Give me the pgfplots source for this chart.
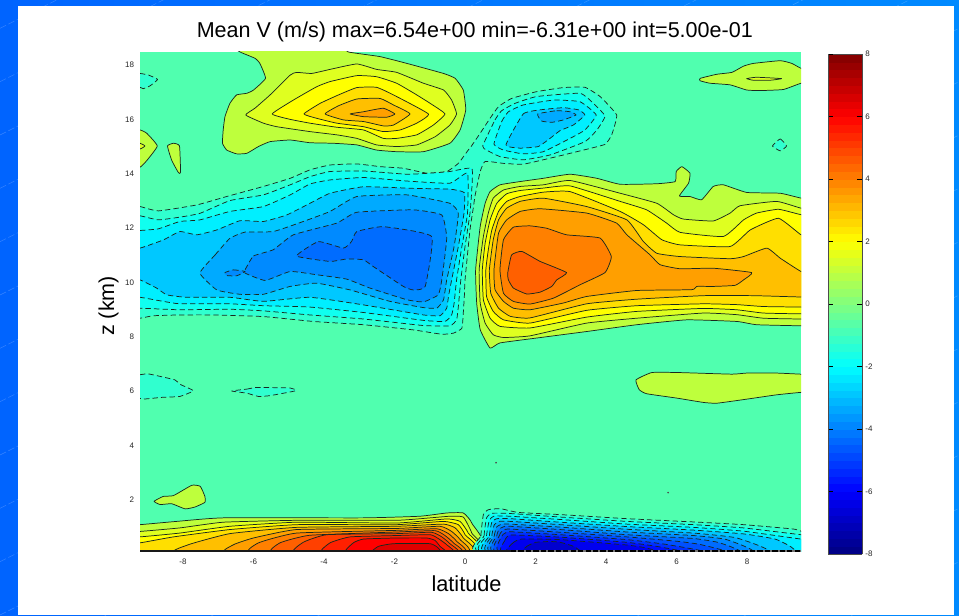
\documentclass[border=0pt]{standalone}
\usepackage{fontspec}
\setmainfont{Liberation Sans}
\usepackage{pgfplots}
\pgfplotsset{compat=1.18}
\definecolor{bgc}{RGB}{80,255,175}
\definecolor{lc}{RGB}{25,40,30}
\definecolor{P05}{RGB}{190,255,60}
\definecolor{P10}{RGB}{223,255,32}
\definecolor{P15}{RGB}{255,255,0}
\definecolor{P20}{RGB}{255,223,0}
\definecolor{P25}{RGB}{255,191,0}
\definecolor{P30}{RGB}{255,159,0}
\definecolor{P35}{RGB}{255,128,0}
\definecolor{P40}{RGB}{255,96,0}
\definecolor{P45}{RGB}{255,64,0}
\definecolor{P50}{RGB}{255,32,0}
\definecolor{P55}{RGB}{255,0,0}
\definecolor{P60}{RGB}{223,0,0}
\definecolor{N05}{RGB}{48,255,207}
\definecolor{N10}{RGB}{16,255,239}
\definecolor{N15}{RGB}{0,239,255}
\definecolor{N20}{RGB}{0,200,255}
\definecolor{N25}{RGB}{0,170,255}
\definecolor{N30}{RGB}{0,138,255}
\definecolor{N35}{RGB}{0,108,255}
\definecolor{N40}{RGB}{0,80,255}
\definecolor{N45}{RGB}{0,48,255}
\definecolor{N50}{RGB}{0,16,255}
\definecolor{N55}{RGB}{0,0,239}
\definecolor{N60}{RGB}{0,0,207}
\tikzset{
 pl/.style={fill=#1,draw=lc,line width=.55pt,line join=round,smooth cycle,tension=.25},
 nl/.style={fill=#1,draw=lc,line width=.55pt,line join=round,smooth cycle,tension=.25,dash pattern=on 4pt off 2.4pt},
}
\begin{document}
\begin{tikzpicture}
\path[use as bounding box] (0pt,0pt) rectangle (719.25pt,461.25pt);
\shade[left color={rgb,255:red,0;green,100;blue,255},right color={rgb,255:red,0;green,138;blue,255}] (0pt,0pt) rectangle (719.25pt,461.25pt);
\foreach \s in {-480,-440,...,480}{
 \draw[white,opacity=.22,line width=.35pt,dash pattern=on 5pt off 2pt] (0pt,\s pt) -- (719.25pt,\s pt+360pt);
}
\fill[white] (13.5pt,0pt) rectangle (715.5pt,456.75pt);
\begin{axis}[
 at={(105pt,48pt)},anchor=south west,
 scale only axis,width=495.75pt,height=374.25pt,
 xmin=-9.22,xmax=9.53,ymin=0.11,ymax=18.48,
 axis background/.style={fill=bgc},
 axis line style={draw=none},
 tick style={draw=none},
 xtick={-8,-6,...,8},ytick={2,4,...,18},
 tick label style={font=\fontsize{6}{6.5}\selectfont,text=black!85},
 /pgf/number format/assume math mode=true,
 xticklabel style={yshift=-2.4pt},
 yticklabel style={xshift=-1pt},
 title={\fontsize{16.15}{18}\selectfont Mean V (m/s) max=6.54e+00 min=-6.31e+00 int=5.00e-01},
 title style={at={(axis description cs:0.5065,1)},anchor=base,yshift=4.8pt},
 xlabel={\fontsize{16.3}{18}\selectfont latitude},
 xlabel style={at={(axis description cs:0.494,0)},anchor=base,yshift=-30.5pt},
 ylabel={\fontsize{16.15}{18}\selectfont z (km)},
 ylabel style={at={(axis description cs:-0.039,0.491)},anchor=base},
 colormap={matjet}{rgb255(0cm)=(0,0,128); rgb255(1cm)=(0,0,255); rgb255(3cm)=(0,255,255); rgb255(5cm)=(255,255,0); rgb255(7cm)=(255,0,0); rgb255(8cm)=(128,0,0)},
 point meta min=-8,point meta max=8,
 colorbar sampled,
 colorbar shift/.style={xshift=20.25pt,yshift=-1.5pt},
 colorbar style={
  samples=65,
  width=25.5pt,height=375pt,scale only axis,
  ytick={-8,-6,...,8},
  tick align=inside,ytick pos=both,yticklabel pos=right,
  major tick length=4pt,
  tick style={draw=black,line width=.5pt},
  axis line style={draw=black!70,line width=.6pt},
  tick label style={font=\fontsize{6}{6.5}\selectfont,text=black!85},
  /pgf/number format/assume math mode=true,
  yticklabel style={xshift=-1pt},
 },
]
% ---- negative contours aloft
\addplot[nl=N05] coordinates {(-9.6,12.79)(-9.22,12.79)(-8.70,12.63)(-7.61,12.85)(-6.76,13.16)(-5.72,13.53)(-4.96,13.83)(-4.40,14.14)(-3.83,14.32)(-3.07,14.36)(-2.41,14.26)(-1.75,14.20)(-1.09,14.02)(-.52,14.08)(-.19,14.38)(.09,14.87)(.14,14.94)(.43,15.49)(.71,16.04)(.95,16.47)(1.32,16.77)(2.03,17.02)(2.79,17.17)(3.40,17.18)(3.83,16.84)(4.30,16.16)(4.16,15.43)(3.97,15.08)(3.36,14.87)(2.41,14.57)(1.65,14.35)(1.09,14.38)(.57,14.45)(.43,14.08)(.28,13.16)(.24,12.79)(.14,11.93)(0,10.09)(-.02,9.48)(-.05,8.87)(-.09,8.31)(-.33,8.13)(-.66,8.09)(-1.47,8.25)(-2.88,8.44)(-4.30,8.56)(-5.72,8.74)(-7.14,8.80)(-8.09,8.80)(-8.84,8.77)(-9.22,8.68)(-9.6,8.68)};
\addplot[nl=N10] coordinates {(-9.6,12.45)(-9.22,12.45)(-8.70,12.30)(-8.09,12.40)(-7.52,12.54)(-6.67,13.01)(-5.72,13.22)(-4.96,13.59)(-4.40,13.89)(-3.83,14.08)(-2.88,14.10)(-1.65,13.98)(-.99,14.02)(-.43,14.08)(.19,14.20)(.19,13.40)(.14,12.54)(0,11.32)(-.12,10.09)(-.19,9.11)(-.24,8.62)(-.43,8.40)(-1.18,8.41)(-2.88,8.65)(-4.40,8.80)(-5.72,8.95)(-6.67,9.01)(-8.09,8.99)(-9.22,9.05)(-9.6,9.05)};
\addplot[nl=N15] coordinates {(-9.6,11.91)(-9.22,11.91)(-8.70,11.97)(-8.09,12.24)(-7.52,12.30)(-6.67,12.61)(-5.72,12.79)(-4.96,13.22)(-4.40,13.62)(-3.83,13.77)(-2.88,13.86)(-1.65,13.73)(-.43,13.65)(.07,14.02)(.07,12.54)(-.09,11.32)(-.24,10.09)(-.31,9.23)(-.38,8.80)(-.57,8.56)(-1.18,8.60)(-2.88,8.89)(-4.40,9.09)(-5.72,9.14)(-6.67,9.21)(-8.09,9.21)(-8.56,9.30)(-9.22,9.45)(-9.6,9.45)};
\addplot[nl=N20] coordinates {(-9.6,11.26)(-9.22,11.26)(-8.56,11.56)(-8.09,11.87)(-7.61,11.75)(-7.04,11.93)(-6.38,12.27)(-5.72,12.24)(-5.06,12.48)(-4.40,12.91)(-3.83,13.28)(-2.88,13.52)(-1.47,13.46)(-.43,13.43)(-.02,13.30)(-.03,12.54)(-.19,11.32)(-.38,10.09)(-.47,9.48)(-.52,9.05)(-.71,8.77)(-1.18,8.80)(-2.88,9.17)(-4.40,9.45)(-5.72,9.30)(-6.67,9.45)(-7.90,9.45)(-8.46,9.54)(-8.75,9.79)(-9.22,10.09)(-9.6,10.09)};
\addplot[nl=N25] coordinates {(-7.52,10.34)(-7.09,11.01)(-6.67,11.62)(-6.24,11.85)(-5.44,11.87)(-4.59,12.24)(-3.83,12.61)(-3.07,13.16)(-1.65,13.22)(-.43,12.91)(-.19,12.54)(-.31,11.32)(-.52,10.09)(-.61,9.36)(-.80,9.05)(-1.18,9.07)(-2.13,9.30)(-3.26,9.72)(-4.21,9.97)(-4.96,9.85)(-5.72,9.56)(-6.38,9.56)(-7.04,9.72)};
\addplot[nl=N30] coordinates {(-6.24,10.46)(-6.00,10.97)(-5.44,11.20)(-4.87,11.75)(-3.64,12.18)(-3.07,12.58)(-1.47,12.67)(-.66,12.48)(-.52,11.62)(-.66,10.09)(-.76,9.54)(-1.18,9.28)(-1.65,9.36)(-2.70,9.79)(-3.36,10.12)(-4.21,10.28)(-4.96,10.40)(-5.67,10.07)(-6.24,10.34)};
\addplot[nl=N30] coordinates {(-6.81,10.36)(-6.57,10.46)(-6.24,10.40)(-6.48,10.24)(-6.76,10.25)};
\addplot[nl=N35] coordinates {(-4.78,10.97)(-4.16,11.50)(-3.45,11.26)(-3.22,11.50)(-3.07,11.87)(-2.32,12.05)(-.95,11.69)(-1.13,9.85)(-1.47,9.72)(-1.75,9.85)(-2.60,10.58)(-2.88,10.83)(-3.36,10.86)(-3.83,10.77)};
% upper negative blob
\addplot[nl=N10] coordinates {(.50,15.02)(.85,15.98)(1.04,16.32)(1.42,16.59)(2.03,16.84)(3.26,16.96)(3.64,16.59)(3.97,16.12)(3.74,15.61)(3.40,15.18)(2.41,14.69)(1.65,14.51)(.99,14.63)(.61,14.87)};
\addplot[nl=N15] coordinates {(.82,15.09)(1.04,15.92)(1.23,16.28)(1.65,16.53)(2.51,16.71)(3.26,16.65)(3.72,16.16)(3.40,15.61)(2.98,15.30)(2.22,14.81)(1.65,14.73)(1.09,14.87)};
\addplot[nl=N20] coordinates {(1.16,15.06)(1.65,16.20)(2.13,16.35)(2.79,16.43)(3.22,16.35)(3.40,16.16)(3.07,15.79)(2.70,15.59)(2.41,15.30)(2.08,15.00)(1.56,14.94)};
\addplot[nl=N25] coordinates {(2.06,16.20)(2.60,16.32)(2.98,16.28)(3.15,16.16)(2.79,15.98)(2.46,15.89)(2.17,15.94)};
% small negative patches
\addplot[nl=N05] coordinates {(-9.6,17.69)(-9.22,17.69)(-8.98,17.63)(-8.72,17.47)(-8.94,17.23)(-9.13,17.13)(-9.22,17.18)(-9.6,17.18)};
\addplot[nl=N05] coordinates {(8.72,15.02)(8.94,15.28)(9.12,15.02)(8.94,14.84)};
\addplot[nl=N05] coordinates {(-9.6,6.60)(-9.22,6.60)(-8.98,6.63)(-8.23,6.41)(-8.09,6.25)(-7.71,6.01)(-8.09,5.80)(-8.56,5.77)(-9.13,5.70)(-9.22,5.73)(-9.6,5.73)};
\addplot[nl=N05] coordinates {(-6.62,6.00)(-6.19,6.07)(-5.91,6.13)(-4.96,6.11)(-4.80,6.01)(-5.53,5.83)(-5.86,5.80)(-6.19,5.92)};
% ---- positive upper blob
\addplot[pl=P05] coordinates {(-6.5,18.7)(-6.38,18.48)(-5.96,18.25)(-5.82,18.06)(-5.66,17.51)(-6.00,17.08)(-6.19,16.96)(-6.48,16.90)(-6.67,16.59)(-6.81,16.10)(-6.86,15.61)(-6.88,15.12)(-6.76,14.87)(-6.48,14.73)(-6.19,14.75)(-5.86,15.00)(-5.53,15.18)(-4.96,15.24)(-4.40,15.14)(-3.74,15.12)(-3.07,15.06)(-2.51,14.87)(-1.94,14.81)(-1.18,14.81)(-.43,15.12)(-.14,15.61)(.02,16.35)(-.05,17.08)(-.28,17.51)(-.61,17.69)(-1.65,18.06)(-2.41,18.31)(-3.31,18.48)(-3.6,18.7)};
\addplot[pl=P10] coordinates {(-6.22,16.16)(-5.96,16.41)(-5.53,16.90)(-4.96,17.63)(-4.78,17.73)(-4.35,17.69)(-3.83,17.84)(-3.07,18.04)(-2.51,17.84)(-1.94,17.73)(-1.18,17.33)(-.61,17.08)(-.38,16.71)(-.24,16.20)(-.43,15.79)(-.85,15.36)(-1.37,15.06)(-1.94,15.00)(-2.51,15.06)(-3.07,15.30)(-3.64,15.43)(-4.40,15.55)(-5.34,15.73)(-5.72,15.86)};
\addplot[pl=P15] coordinates {(-5.47,16.20)(-4.87,16.71)(-4.21,17.20)(-3.83,17.39)(-3.07,17.61)(-2.51,17.57)(-1.94,17.33)(-1.37,16.90)(-.99,16.59)(-.57,16.20)(-.90,15.79)(-1.37,15.43)(-1.94,15.30)(-2.32,15.30)(-2.88,15.61)(-3.64,15.71)(-4.40,15.86)(-4.96,16.00)};
\addplot[pl=P20] coordinates {(-4.57,16.20)(-4.11,16.59)(-3.59,16.90)(-3.07,17.17)(-2.51,17.18)(-2.03,16.90)(-1.04,16.20)(-1.37,15.86)(-1.84,15.61)(-2.32,15.55)(-2.88,15.73)(-3.64,15.86)(-4.21,16.04)};
\addplot[pl=P25] coordinates {(-3.97,16.20)(-3.59,16.50)(-3.07,16.75)(-2.41,16.77)(-2.03,16.53)(-1.56,16.20)(-2.03,15.79)(-2.32,15.76)(-2.88,15.92)(-3.45,15.98)};
\addplot[pl=P30] coordinates {(-3.26,16.20)(-2.88,16.28)(-2.32,16.41)(-1.99,16.20)(-2.22,16.08)(-2.88,16.10)};
% small positive patches
\addplot[pl=P05] coordinates {(-9.6,15.61)(-9.22,15.61)(-9.03,15.49)(-8.73,15.02)(-9.03,14.48)(-9.22,14.24)(-9.6,14.24)};
\addplot[pl=P10] coordinates {(-9.6,15.12)(-9.22,15.12)(-9.08,15.02)(-9.22,14.91)(-9.6,14.91)};
\addplot[pl=P05] coordinates {(-8.44,15.02)(-8.27,15.12)(-8.10,15.02)(-8.07,14.05)(-8.13,14.04)(-8.32,14.49)};
\addplot[pl=P05] coordinates {(9.8,17.88)(9.53,17.88)(9.27,18.06)(8.94,18.16)(8.18,18.06)(7.90,17.96)(7.57,17.73)(7.14,17.66)(6.67,17.51)(6.67,17.42)(6.95,17.33)(7.52,17.27)(7.99,17.08)(8.37,17.06)(9.03,17.10)(9.53,17.33)(9.8,17.33)};
\addplot[pl=P10] coordinates {(7.99,17.50)(8.27,17.55)(8.98,17.50)(8.65,17.44)(8.18,17.44)};
\addplot[pl=P05] coordinates {(9.8,6.62)(9.53,6.62)(8.84,6.66)(7.99,6.66)(7.57,6.62)(6.05,6.68)(5.30,6.68)(4.85,6.41)(4.94,6.05)(5.15,5.90)(6.00,5.74)(6.76,5.58)(7.14,5.55)(7.99,5.70)(8.84,5.86)(9.53,5.95)(9.8,5.95)};
\addplot[pl=P05] coordinates {(-8.82,1.94)(-8.56,2.12)(-8.27,2.15)(-7.75,2.53)(-7.51,2.49)(-7.38,2.12)(-7.38,1.90)(-7.66,1.73)(-7.94,1.66)(-8.32,1.85)(-8.65,1.82)};
% ---- positive main blob
\addplot[pl=P05] coordinates {(9.8,13.10)(9.53,13.10)(8.94,13.28)(7.99,13.31)(7.33,13.59)(7.04,13.53)(6.71,13.04)(6.38,13.16)(6.08,13.18)(6.34,13.65)(6.38,14.02)(6.15,14.26)(5.99,14.08)(5.96,13.71)(5.44,13.63)(4.40,13.61)(3.74,13.83)(2.98,13.98)(2.22,13.83)(1.56,13.71)(.99,13.59)(.71,13.34)(.57,12.91)(.43,12.06)(.30,10.46)(.33,9.24)(.43,8.26)(.71,7.58)(.99,7.77)(2.03,7.95)(3.45,8.19)(4.87,8.44)(6.29,8.62)(7.71,8.56)(8.27,8.44)(9.53,8.40)(9.8,8.40)};
\addplot[pl=P10] coordinates {(9.8,12.73)(9.53,12.73)(8.84,12.98)(7.80,12.82)(7.52,12.55)(7.04,12.26)(6.19,12.33)(5.91,12.49)(5.44,12.91)(4.40,13.28)(2.98,13.75)(2.22,13.59)(1.56,13.53)(1.09,13.40)(.80,13.10)(.66,12.55)(.52,11.69)(.40,10.46)(.43,9.24)(.57,8.50)(.80,8.07)(1.09,7.97)(1.84,8.03)(3.45,8.50)(4.87,8.68)(6.76,8.87)(7.71,8.81)(8.46,8.68)(9.53,8.65)(9.8,8.65)};
\addplot[pl=P15] coordinates {(9.8,12.49)(9.53,12.49)(8.89,12.69)(8.27,12.55)(7.90,12.30)(7.33,11.69)(6.10,11.84)(5.72,12.18)(5.15,12.67)(4.40,12.98)(2.98,13.55)(2.22,13.47)(1.56,13.38)(1.18,13.26)(.90,12.91)(.71,12.30)(.57,11.44)(.49,10.46)(.52,9.36)(.71,8.68)(.99,8.38)(1.84,8.32)(3.45,8.72)(4.87,8.93)(6.76,9.04)(7.71,8.99)(8.46,8.87)(9.53,8.84)(9.8,8.84)};
\addplot[pl=P20] coordinates {(9.8,11.75)(9.53,11.75)(8.89,12.36)(8.09,11.93)(7.52,11.32)(6.10,11.38)(5.58,11.57)(5.06,12.12)(4.40,12.61)(2.98,13.34)(2.22,13.32)(1.56,13.16)(1.18,12.98)(.95,12.61)(.76,11.93)(.66,11.20)(.59,10.46)(.61,9.48)(.80,8.93)(1.09,8.62)(1.84,8.50)(3.45,8.97)(4.87,9.14)(6.76,9.21)(7.71,9.18)(8.46,9.11)(9.53,9.09)(9.8,9.09)};
\addplot[pl=P25] coordinates {(9.8,10.40)(9.53,10.40)(8.94,10.89)(8.56,11.26)(7.90,10.95)(7.52,10.87)(6.10,10.95)(5.44,11.07)(5.06,11.50)(4.59,12.30)(3.45,12.79)(2.22,13.10)(1.56,12.98)(1.18,12.73)(.95,12.30)(.80,11.57)(.69,10.46)(.73,9.60)(.95,9.05)(1.28,8.75)(1.84,8.69)(3.45,9.21)(4.87,9.38)(6.76,9.51)(8.18,9.51)(9.53,9.46)(9.8,9.46)};
\addplot[pl=P30] coordinates {(8.13,10.36)(7.04,10.52)(6.10,10.50)(5.53,10.65)(5.25,11.01)(4.59,11.75)(4.30,12.18)(3.45,12.55)(2.13,12.71)(1.56,12.61)(1.18,12.30)(.95,11.81)(.82,10.46)(.85,9.73)(1.09,9.30)(1.37,9.05)(1.84,8.99)(2.79,9.24)(3.45,9.48)(4.87,9.70)(6.43,9.73)(6.57,9.85)(7.04,9.85)(7.66,9.89)(7.90,10.09)};
\addplot[pl=P35] coordinates {(4.15,10.95)(3.83,11.63)(2.88,11.75)(2.32,11.99)(1.84,12.08)(1.37,12.03)(1.09,11.57)(.99,10.46)(1.09,9.60)(1.37,9.30)(1.84,9.20)(2.51,9.42)(3.26,9.91)(3.97,10.36)};
\addplot[pl=P40] coordinates {(1.21,10.34)(1.32,11.01)(1.61,11.14)(2.13,10.77)(2.88,10.36)(2.60,10.09)(2.46,9.85)(2.13,9.64)(1.75,9.57)(1.37,9.79)(1.23,10.09)};
% ---- near-surface, south
\addplot[pl=P05] coordinates {(-9.6,0)(-9.6,1.08)(-9.22,1.08)(-8.18,1.20)(-6.86,1.33)(-2.88,1.33)(-1.28,1.39)(-.52,1.51)(-.05,1.51)(.19,1.14)(.26,0)};
\addplot[pl=P10] coordinates {(-9.6,0)(-9.6,.83)(-9.22,.83)(-8.09,.96)(-6.86,1.17)(-4.78,1.24)(-1.94,1.24)(-.99,1.33)(-.43,1.39)(-.05,1.36)(.19,.77)(.22,0)};
\addplot[pl=P15] coordinates {(-9.6,0)(-9.6,.63)(-9.22,.63)(-8.09,.77)(-6.67,1.02)(-4.78,1.17)(-1.94,1.14)(-.52,1.29)(-.14,1.20)(.09,.77)(.16,0)};
\addplot[pl=P20] coordinates {(-9.6,0)(-9.6,.41)(-9.22,.41)(-8.27,.63)(-6.67,.90)(-4.78,1.08)(-1.94,1.08)(-.61,1.20)(-.19,1.08)(0,.71)(.09,0)};
\addplot[pl=P25] coordinates {(-8.09,0)(-7.85,.34)(-6.67,.75)(-4.78,.98)(-1.94,1.02)(-.61,1.10)(-.28,.96)(-.05,.59)(.03,0)};
\addplot[pl=P30] coordinates {(-6.67,0)(-6.57,.34)(-6.00,.59)(-4.78,.90)(-1.94,.94)(-.71,1.02)(-.38,.83)(-.14,.53)(-.05,0)};
\addplot[pl=P35] coordinates {(-6.00,0)(-5.86,.41)(-4.78,.77)(-1.94,.87)(-.80,.93)(-.47,.75)(-.24,.47)(-.12,0)};
\addplot[pl=P40] coordinates {(-5.39,0)(-5.25,.41)(-4.40,.69)(-1.94,.81)(-.85,.86)(-.57,.68)(-.33,.41)(-.19,0)};
\addplot[pl=P45] coordinates {(-4.78,0)(-4.59,.43)(-3.92,.71)(-1.94,.75)(-.95,.80)(-.66,.63)(-.43,.38)(-.28,0)};
\addplot[pl=P50] coordinates {(-4.02,0)(-3.83,.41)(-3.26,.63)(-1.94,.68)(-.99,.71)(-.76,.57)(-.52,.34)(-.38,0)};
\addplot[pl=P55] coordinates {(-3.36,0)(-3.17,.41)(-2.88,.55)(-1.94,.59)(-1.09,.59)(-.85,.50)(-.71,.28)(-.57,0)};
\addplot[pl=P60] coordinates {(-2.65,0)(-2.46,.28)(-2.03,.38)(-.99,.38)(-.76,.22)(-.73,0)};
% ---- near-surface, north
\addplot[nl=N05] coordinates {(.52,0)(.45,.67)(.52,1.45)(.66,1.63)(1.0,1.67)(1.51,1.53)(2.70,1.45)(4.59,1.30)(6.48,1.18)(7.90,1.08)(9.31,.92)(9.53,.84)(9.8,.84)(9.8,0)};
\addplot[nl=N10] coordinates {(.60,0)(.54,.67)(.61,1.33)(.76,1.50)(1.28,1.49)(2.70,1.36)(4.59,1.20)(6.48,1.08)(7.90,.96)(9.53,.71)(9.8,.71)(9.8,0)};
\addplot[nl=N15] coordinates {(.67,0)(.61,.67)(.69,1.25)(.83,1.40)(1.28,1.39)(2.70,1.27)(4.59,1.10)(6.48,.98)(7.90,.84)(9.53,.55)(9.8,.55)(9.8,0)};
\addplot[nl=N20] coordinates {(.74,0)(.69,.67)(.76,1.18)(.90,1.30)(1.28,1.30)(2.70,1.17)(4.59,1.01)(6.48,.88)(7.90,.74)(8.84,.53)(9.17,0)};
\addplot[nl=N25] coordinates {(.81,0)(.76,.67)(.83,1.08)(.97,1.20)(1.28,1.20)(2.70,1.08)(4.59,.91)(6.48,.77)(7.71,.59)(8.56,0)};
\addplot[nl=N30] coordinates {(.88,0)(.83,.67)(.90,1.00)(1.05,1.10)(1.28,1.10)(2.70,.99)(4.59,.81)(6.48,.68)(7.42,.53)(8.09,0)};
\addplot[nl=N35] coordinates {(.95,0)(.90,.67)(.97,.92)(1.13,1.02)(1.28,1.02)(2.70,.90)(4.59,.71)(6.48,.57)(7.23,.41)(7.71,0)};
\addplot[nl=N40] coordinates {(1.02,0)(.97,.67)(1.05,.84)(1.23,.92)(2.70,.80)(4.59,.63)(6.00,.47)(6.67,.35)(7.42,0)};
\addplot[nl=N45] coordinates {(1.10,0)(1.05,.67)(1.13,.76)(1.28,.82)(2.70,.71)(4.59,.53)(5.72,.35)(6.95,0)};
\addplot[nl=N50] coordinates {(1.18,0)(1.13,.50)(1.30,.70)(2.70,.62)(4.59,.43)(5.53,.26)(6.29,0)};
\addplot[nl=N55] coordinates {(1.28,0)(1.35,.40)(1.60,.55)(2.70,.53)(4.59,.33)(5.15,.22)(5.53,0)};
\addplot[nl=N60] coordinates {(1.61,0)(1.75,.28)(2.00,.43)(2.42,.46)(2.70,.43)(3.08,.28)(3.31,0)};
% ---- bottom edge and specks
\addplot[black!90,line width=1.1pt,clip=false] coordinates {(-9.22,.11)(1.3,.11)};
\addplot[black!55,line width=1.1pt,clip=false] coordinates {(1.3,.11)(9.53,.11)};
\addplot[black,line width=1.1pt,clip=false,dash pattern=on 4pt off 1.6pt] coordinates {(1.3,.11)(9.53,.11)};
\addplot[only marks,mark=*,mark size=.4pt,color=black!70] coordinates {(.88,3.36)(5.76,2.26)};
\end{axis}
\end{tikzpicture}
\end{document}
